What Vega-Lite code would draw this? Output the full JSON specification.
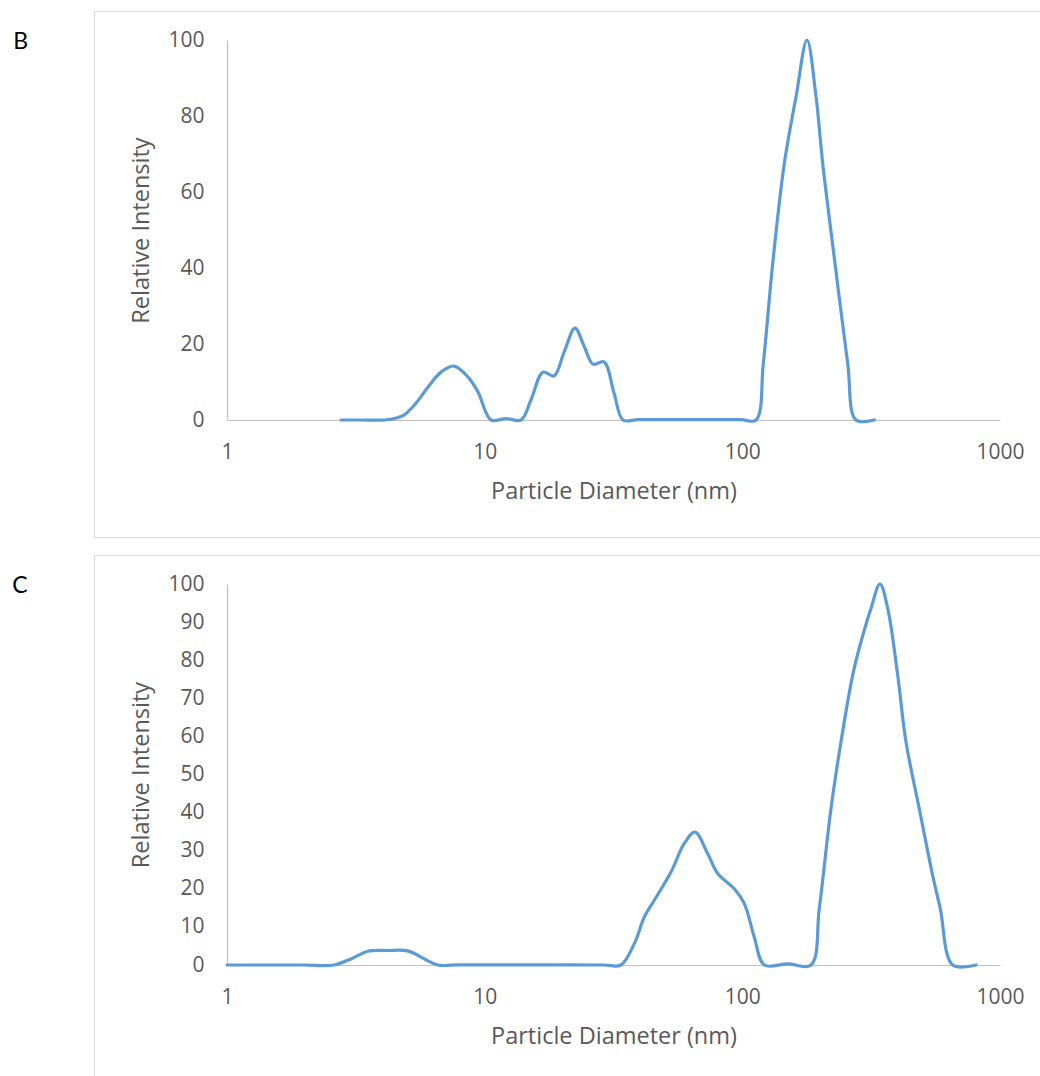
{
  "$schema": "https://vega.github.io/schema/vega-lite/v6.json",
  "background": "white",
  "padding": {"left": 11, "top": 10, "right": 0, "bottom": 0},
  "spacing": 16,
  "config": {
    "view": {"stroke": "#d9d9d9", "strokeWidth": 1, "fill": "white"},
    "axis": {
      "grid": false,
      "ticks": false,
      "tickSize": 0,
      "domainColor": "#bfbfbf",
      "domainWidth": 1.2,
      "labelFont": "Open Sans",
      "labelFontSize": 21,
      "labelColor": "#595959",
      "titleFont": "Open Sans",
      "titleFontSize": 23.5,
      "titleFontWeight": "normal",
      "titleColor": "#595959"
    },
    "title": {"font": "Lato", "fontSize": 23, "fontWeight": "normal", "color": "#000000"}
  },
  "datasets": {
    "B": [
      {"d": 2.77, "i": 0}, {"d": 3.3, "i": 0}, {"d": 4.07, "i": 0}, {"d": 4.46, "i": 0.4},
      {"d": 4.86, "i": 1.3}, {"d": 5.41, "i": 4.4}, {"d": 6.03, "i": 8.7}, {"d": 6.77, "i": 12.6},
      {"d": 7.6, "i": 14.2}, {"d": 8.62, "i": 11.3}, {"d": 9.42, "i": 7.4}, {"d": 10.58, "i": 0},
      {"d": 12.1, "i": 0.4}, {"d": 13.84, "i": 0}, {"d": 15.13, "i": 5.3}, {"d": 16.84, "i": 12.6},
      {"d": 18.58, "i": 11.6}, {"d": 20.37, "i": 18}, {"d": 22.41, "i": 24.2}, {"d": 24.36, "i": 19.3},
      {"d": 26.33, "i": 14.7}, {"d": 29.05, "i": 15.3}, {"d": 31.77, "i": 7.1}, {"d": 34.43, "i": 0},
      {"d": 39.36, "i": 0.1}, {"d": 50, "i": 0.1}, {"d": 70, "i": 0.1}, {"d": 98.5, "i": 0.1},
      {"d": 113, "i": 0}, {"d": 120.6, "i": 14.9}, {"d": 131.2, "i": 41.2}, {"d": 145.5, "i": 67.5},
      {"d": 161.6, "i": 85.1}, {"d": 178.2, "i": 100}, {"d": 193.2, "i": 85.1}, {"d": 205.1, "i": 67.5},
      {"d": 228.9, "i": 41.2}, {"d": 256.4, "i": 14.9}, {"d": 276.1, "i": 0}, {"d": 325.2, "i": 0}
    ],
    "C": [
      {"d": 1, "i": 0}, {"d": 1.5, "i": 0}, {"d": 2.0, "i": 0}, {"d": 2.6, "i": 0},
      {"d": 3.03, "i": 1.6}, {"d": 3.52, "i": 3.6}, {"d": 4.2, "i": 3.8}, {"d": 5.03, "i": 3.7},
      {"d": 5.83, "i": 1.6}, {"d": 6.57, "i": 0}, {"d": 8, "i": 0.05}, {"d": 12, "i": 0.05},
      {"d": 20, "i": 0.05}, {"d": 29.1, "i": 0}, {"d": 33.8, "i": 0}, {"d": 38.08, "i": 5.6},
      {"d": 41.65, "i": 12.6}, {"d": 45.53, "i": 17}, {"d": 52.86, "i": 24.4}, {"d": 59.52, "i": 31.9},
      {"d": 65.51, "i": 34.9}, {"d": 73.38, "i": 29.2}, {"d": 80.25, "i": 24}, {"d": 93.08, "i": 20},
      {"d": 101.8, "i": 16.1}, {"d": 111.3, "i": 7.3}, {"d": 121.7, "i": 0}, {"d": 150, "i": 0.3},
      {"d": 184.7, "i": 0}, {"d": 198.9, "i": 14.8}, {"d": 220.8, "i": 41}, {"d": 241.5, "i": 58.6},
      {"d": 268.1, "i": 76.1}, {"d": 288.7, "i": 84.8}, {"d": 315.7, "i": 93.6}, {"d": 342.1, "i": 100},
      {"d": 366.6, "i": 93.6}, {"d": 400.8, "i": 76.1}, {"d": 431.6, "i": 58.6}, {"d": 486.1, "i": 41},
      {"d": 547.9, "i": 23.5}, {"d": 586.5, "i": 14.8}, {"d": 655.1, "i": 0}, {"d": 806.9, "i": 0}
    ]
  },
  "vconcat": [
    {
      "width": 950,
      "height": 526,
      "title": {"text": "B", "anchor": "end", "frame": "group", "orient": "left", "angle": 0, "offset": 51, "baseline": "top", "align": "right", "dy": 20},
      "data": {"name": "B"},
      "mark": {"type": "line", "color": "#5b9bd5", "strokeWidth": 3.2, "interpolate": "catmull-rom", "strokeCap": "round", "strokeJoin": "round"},
      "encoding": {
        "x": {
          "field": "d", "type": "quantitative",
          "scale": {"type": "log", "domain": [1, 1000], "range": [133, 906], "nice": false},
          "axis": {"title": "Particle Diameter (nm)", "values": [1, 10, 100, 1000], "format": "d", "offset": -117, "labelPadding": 21.5, "titlePadding": 17, "labelFlush": false, "labelOverlap": false}
        },
        "y": {
          "field": "i", "type": "quantitative",
          "scale": {"domain": [0, 100], "range": [409, 29], "nice": false, "zero": false},
          "axis": {"title": "Relative Intensity", "values": [0, 20, 40, 60, 80, 100], "offset": -133, "labelPadding": 23, "titlePadding": 14, "labelFlush": false, "labelOverlap": false}
        }
      }
    },
    {
      "width": 950,
      "height": 526,
      "title": {"text": "C", "anchor": "end", "frame": "group", "orient": "left", "angle": 0, "offset": 51, "baseline": "top", "align": "right", "dy": 20},
      "data": {"name": "C"},
      "mark": {"type": "line", "color": "#5b9bd5", "strokeWidth": 3.2, "interpolate": "catmull-rom", "strokeCap": "round", "strokeJoin": "round"},
      "encoding": {
        "x": {
          "field": "d", "type": "quantitative",
          "scale": {"type": "log", "domain": [1, 1000], "range": [133, 906], "nice": false},
          "axis": {"title": "Particle Diameter (nm)", "values": [1, 10, 100, 1000], "format": "d", "offset": -116, "labelPadding": 21.5, "titlePadding": 17, "labelFlush": false, "labelOverlap": false}
        },
        "y": {
          "field": "i", "type": "quantitative",
          "scale": {"domain": [0, 100], "range": [410, 29], "nice": false, "zero": false},
          "axis": {"title": "Relative Intensity", "values": [0, 10, 20, 30, 40, 50, 60, 70, 80, 90, 100], "offset": -133, "labelPadding": 23, "titlePadding": 14, "labelFlush": false, "labelOverlap": false}
        }
      }
    }
  ]
}
